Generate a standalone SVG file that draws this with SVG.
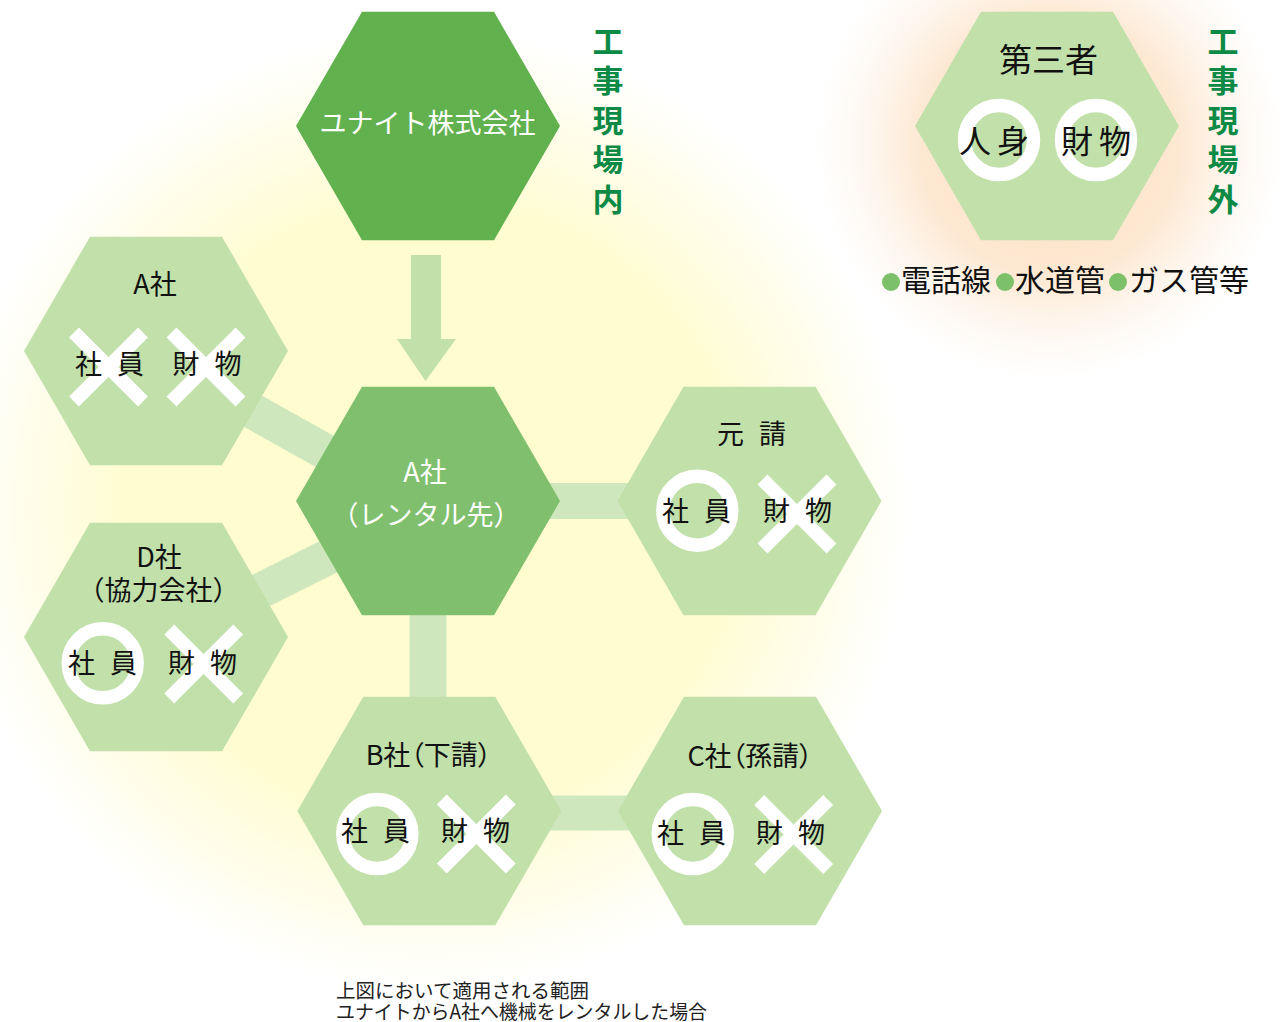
<svg xmlns="http://www.w3.org/2000/svg" xmlns:xlink="http://www.w3.org/1999/xlink" width="1284" height="1022" viewBox="0 0 1284 1022">
<style>
text{font-family:"Noto Sans CJK JP","Noto Sans",sans-serif;}
.lbl{font-size:27px;fill:#111111;}
.big{font-size:32px;fill:#111111;}
.wht{font-size:27px;fill:#ffffff;}
.grn{font-size:31px;font-weight:700;fill:#0d8a45;}
.cap{font-size:19.5px;fill:#222222;}
.palt{font-feature-settings:"palt" 1;}
.hexL{fill:#c1e0aa;}
.hexD{fill:#62b14f;}
.hexM{fill:#80bf6d;}
.bar{stroke:#cfe7bd;fill:none;}
.ring{fill:none;stroke:#ffffff;stroke-width:13.5;}
.dot{fill:#7cc16a;}
</style>
<defs>
<radialGradient id="glowY" cx="430" cy="510" r="480" gradientUnits="userSpaceOnUse">
<stop offset="0" stop-color="#fffccf"/>
<stop offset="0.62" stop-color="#fffccf"/>
<stop offset="1" stop-color="#fffccf" stop-opacity="0"/>
</radialGradient>
<radialGradient id="glowO" cx="1050" cy="145" r="235" gradientUnits="userSpaceOnUse">
<stop offset="0" stop-color="#fde0c0"/>
<stop offset="0.55" stop-color="#fde8d2"/>
<stop offset="1" stop-color="#fef3e8" stop-opacity="0"/>
</radialGradient>
<polygon id="hex" points="-132,0 -66,-114.3 66,-114.3 132,0 66,114.3 -66,114.3"/>
<circle id="ring" r="34.5"/>
<g id="cross" stroke="#ffffff" stroke-width="14" stroke-linecap="butt"><line x1="-34.5" y1="-34.5" x2="34.5" y2="34.5"/><line x1="-34.5" y1="34.5" x2="34.5" y2="-34.5"/></g>
</defs>
<rect x="0" y="0" width="1284" height="1022" fill="#ffffff"/>
<circle cx="430" cy="510" r="480" fill="url(#glowY)"/>
<circle cx="1050" cy="145" r="235" fill="url(#glowO)"/>

<g id="connectors">
<line class="bar" x1="156" y1="357" x2="428" y2="509" stroke-width="36"/>
<line class="bar" x1="156" y1="643" x2="428" y2="507" stroke-width="36"/>
<line class="bar" x1="428" y1="501" x2="749.5" y2="501" stroke-width="36"/>
<line class="bar" x1="428" y1="501" x2="428" y2="811" stroke-width="37"/>
<line class="bar" x1="429" y1="813" x2="750" y2="813" stroke-width="35"/>
<polygon id="arrow" points="411,255 441,255 441,339 456,339 425.5,381 397,339 411,339" fill="#c2e1aa"/>
</g>

<g id="node-united">
<use xlink:href="#hex" href="#hex" x="428" y="126" class="hexD"/>
<text class="wht" x="427.5" y="133" text-anchor="middle">ユナイト株式会社</text>
</g>

<g id="label-genba-nai">
<text class="grn" text-anchor="middle"><tspan x="608" y="52.5">工</tspan><tspan x="608" y="92">事</tspan><tspan x="608" y="131.5">現</tspan><tspan x="608" y="171">場</tspan><tspan x="608" y="210.5">内</tspan></text>
</g>

<g id="node-third">
<use xlink:href="#hex" href="#hex" x="1047" y="126" class="hexL"/>
<text class="lbl" x="1048.5" y="72" text-anchor="middle" style="font-size:33px">第三者</text>
<use xlink:href="#ring" href="#ring" x="999" y="140" class="ring"/>
<use xlink:href="#ring" href="#ring" x="1096" y="140" class="ring"/>
<text class="big" x="959 997" y="153">人身</text>
<text class="big" x="1061 1099" y="153">財物</text>
</g>

<g id="label-genba-gai">
<text class="grn" text-anchor="middle"><tspan x="1223" y="52.5">工</tspan><tspan x="1223" y="92">事</tspan><tspan x="1223" y="131.5">現</tspan><tspan x="1223" y="171">場</tspan><tspan x="1223" y="210.5">外</tspan></text>
</g>

<g id="label-utilities">
<circle class="dot" cx="891" cy="282" r="9"/>
<text class="lbl" x="901" y="291" style="font-size:30px">電話線</text>
<circle class="dot" cx="1005" cy="282" r="9"/>
<text class="lbl" x="1015" y="291" style="font-size:30px">水道管</text>
<circle class="dot" cx="1118" cy="282" r="9"/>
<text class="lbl" x="1129" y="291" style="font-size:30px">ガス管等</text>
</g>

<g id="node-a-left">
<use xlink:href="#hex" href="#hex" x="156" y="351" class="hexL"/>
<text class="lbl" x="155" y="294" text-anchor="middle">A社</text>
<use xlink:href="#cross" href="#cross" x="108.5" y="367"/>
<use xlink:href="#cross" href="#cross" x="206" y="367"/>
<text class="lbl" x="75 117" y="374">社員</text>
<text class="lbl" x="172.5 214.5" y="374">財物</text>
</g>

<g id="node-center">
<use xlink:href="#hex" href="#hex" x="428" y="501" class="hexM"/>
<text class="wht" x="425" y="482" text-anchor="middle">A社</text>
<text class="wht" x="426" y="525" text-anchor="middle">（レンタル先）</text>
</g>

<g id="node-motouke">
<use xlink:href="#hex" href="#hex" x="749.5" y="501" class="hexL"/>
<text class="lbl" x="717 759" y="444">元請</text>
<use xlink:href="#ring" href="#ring" x="697.3" y="510.7" class="ring"/>
<use xlink:href="#cross" href="#cross" x="797" y="514"/>
<text class="lbl" x="662 704" y="521">社員</text>
<text class="lbl" x="763 805" y="521">財物</text>
</g>

<g id="node-d">
<use xlink:href="#hex" href="#hex" x="156" y="637" class="hexL"/>
<text class="lbl" x="159" y="567" text-anchor="middle">D社</text>
<text class="lbl" x="158.5" y="600" text-anchor="middle">（協力会社）</text>
<use xlink:href="#ring" href="#ring" x="102.7" y="663.3" class="ring"/>
<use xlink:href="#cross" href="#cross" x="203.7" y="664"/>
<text class="lbl" x="68 110" y="673">社員</text>
<text class="lbl" x="168 210" y="673">財物</text>
</g>

<g id="node-b">
<use xlink:href="#hex" href="#hex" x="429.3" y="811" class="hexL"/>
<text class="lbl palt" x="428.5" y="765" text-anchor="middle">B社（下請）</text>
<use xlink:href="#ring" href="#ring" x="377.3" y="834" class="ring"/>
<use xlink:href="#cross" href="#cross" x="476.3" y="834"/>
<text class="lbl" x="341 383" y="841">社員</text>
<text class="lbl" x="441 483" y="841">財物</text>
</g>

<g id="node-c">
<use xlink:href="#hex" href="#hex" x="750" y="811" class="hexL"/>
<text class="lbl palt" x="750" y="766" text-anchor="middle">C社（孫請）</text>
<use xlink:href="#ring" href="#ring" x="692.7" y="834" class="ring"/>
<use xlink:href="#cross" href="#cross" x="793.7" y="834.5"/>
<text class="lbl" x="657 699" y="843">社員</text>
<text class="lbl" x="756 798" y="843">財物</text>
</g>

<g id="caption">
<text class="cap" x="336" y="997.5">上図において適用される範囲</text>
<text class="cap" x="336" y="1018.5" textLength="371" lengthAdjust="spacingAndGlyphs">ユナイトからA社へ機械をレンタルした場合</text>
</g>
</svg>
